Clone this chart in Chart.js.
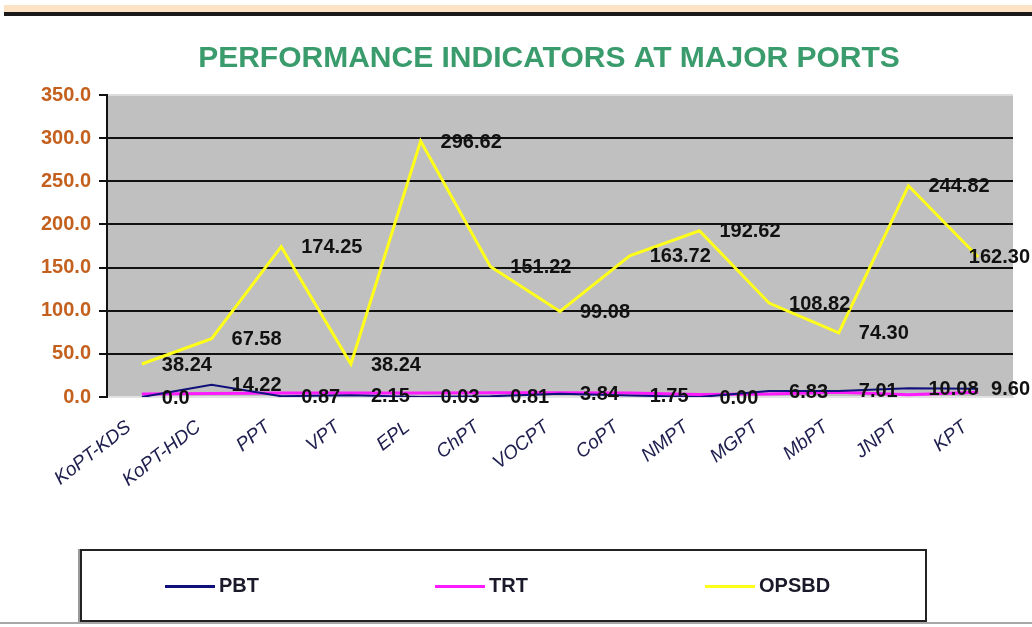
<!DOCTYPE html>
<html>
<head>
<meta charset="utf-8">
<script src="https://cdn.jsdelivr.net/npm/chart.js"></script>
<style>
  html, body { margin: 0; padding: 0; background: #fff; }
  #wrap { position: relative; width: 1032px; height: 627px; overflow: hidden; font-family: "Liberation Sans", Arial, sans-serif; }
  #topBand { position: absolute; left: 4px; top: 5px; width: 1028px; height: 8px; background: #fde3c6; }
  #topRule { position: absolute; left: 4px; top: 12px; width: 1028px; height: 4px; background: #1a1a1a; }
  #bottomRule { position: absolute; left: 0; top: 622px; width: 1032px; height: 2px; background: #a8a8a8; }
  #chart { position: absolute; left: 0; top: 0; }
  #legend { position: absolute; left: 80px; top: 549px; width: 843px; height: 69px; border: 2px solid #222; box-shadow: -2px 0 0 #999; }
  .item { position: absolute; top: 23px; font-size: 20px; font-weight: bold; color: #1a1a2a; line-height: 22px; }
  .item span { display: inline-block; width: 50px; height: 3px; vertical-align: middle; margin-right: 4px; }
</style>
</head>
<body>
<div id="wrap">
  <div id="topBand"></div>
  <div id="topRule"></div>
  <canvas id="chart" width="1032" height="627"></canvas>
  <div id="legend"></div>
  <div id="bottomRule"></div>
</div>
<script>
// ports on the x axis
const ports = ['KoPT-KDS', 'KoPT-HDC', 'PPT', 'VPT', 'EPL', 'ChPT', 'VOCPT', 'CoPT', 'NMPT', 'MGPT', 'MbPT', 'JNPT', 'KPT'];

// series values
const pbtValues = [0.0, 14.22, 0.87, 2.15, 0.03, 0.81, 3.84, 1.75, 0.00, 6.83, 7.01, 10.08, 9.60];
const trtValues = [3.5, 4.0, 4.5, 4.5, 4.5, 4.8, 4.8, 4.5, 3.0, 3.5, 5.5, 2.5, 5.5];
const opsbdValues = [38.24, 67.58, 174.25, 38.24, 296.62, 151.22, 99.08, 163.72, 192.62, 108.82, 74.30, 244.82, 162.30];

// data label texts as printed on the chart
const pbtLabels = ['0.0', '14.22', '0.87', '2.15', '0.03', '0.81', '3.84', '1.75', '0.00', '6.83', '7.01', '10.08', '9.60'];
const opsbdLabels = ['38.24', '67.58', '174.25', '38.24', '296.62', '151.22', '99.08', '163.72', '192.62', '108.82', '74.30', '244.82', '162.30'];

const seriesNames = ['PBT', 'TRT', 'OPSBD'];
const seriesColors = ['#10107a', '#ff1aff', '#ffff1a'];
const chartTitle = 'PERFORMANCE INDICATORS AT MAJOR PORTS';

// gray plot background and title
const plotBackground = {
  id: 'plotBackground',
  beforeDraw(chart) {
    const { ctx, chartArea: a } = chart;
    ctx.save();
    ctx.fillStyle = '#c0c0c0';
    ctx.fillRect(a.left, a.top, a.right - a.left, a.bottom - a.top);
    ctx.strokeStyle = '#dcdcdc';
    ctx.lineWidth = 2;
    ctx.beginPath();
    ctx.moveTo(a.left, a.top);
    ctx.lineTo(a.right, a.top);
    ctx.stroke();

    ctx.font = 'bold 30px "Liberation Sans", Arial, sans-serif';
    ctx.fillStyle = '#3a9c6c';
    ctx.textAlign = 'center';
    ctx.textBaseline = 'middle';
    ctx.fillText(chartTitle, 549, 59);
    ctx.restore();
  }
};

// value labels to the right of each point, kept inside the canvas
const pointLabels = {
  id: 'pointLabels',
  afterDatasetsDraw(chart) {
    const ctx = chart.ctx;
    ctx.save();
    ctx.font = 'bold 20px "Liberation Sans", Arial, sans-serif';
    ctx.fillStyle = '#111';
    ctx.textAlign = 'left';
    ctx.textBaseline = 'middle';
    chart.data.datasets.forEach((ds, i) => {
      if (!ds.pointText) return;
      chart.getDatasetMeta(i).data.forEach((pt, j) => {
        const txt = ds.pointText[j];
        const w = ctx.measureText(txt).width;
        const x = Math.min(pt.x + 20, chart.width - w - 2);
        ctx.fillText(txt, x, pt.y + 1);
      });
    });
    ctx.restore();
  }
};

const ctx = document.getElementById('chart').getContext('2d');
new Chart(ctx, {
  type: 'line',
  data: {
    labels: ports,
    datasets: [
      { label: seriesNames[0], data: pbtValues, borderColor: seriesColors[0], borderWidth: 2, pointRadius: 0, tension: 0, pointText: pbtLabels },
      { label: seriesNames[1], data: trtValues, borderColor: seriesColors[1], borderWidth: 3, pointRadius: 0, tension: 0 },
      { label: seriesNames[2], data: opsbdValues, borderColor: seriesColors[2], borderWidth: 3, pointRadius: 0, tension: 0, pointText: opsbdLabels }
    ]
  },
  options: {
    responsive: false,
    animation: false,
    layout: { padding: { left: 0, right: 19, top: 95, bottom: 0 } },
    plugins: {
      legend: { display: false },
      tooltip: { enabled: false },
      title: { display: false }
    },
    scales: {
      x: {
        offset: true,
        grid: { display: false, drawTicks: false },
        border: { color: '#e2e2e2', width: 2 },
        ticks: {
          color: '#202050',
          font: { family: '"Liberation Sans", Arial, sans-serif', size: 19, style: 'italic' },
          minRotation: 38,
          maxRotation: 38,
          padding: 19,
          labelOffset: -13,
          autoSkip: false
        },
        afterFit(scale) { scale.height = 230; }
      },
      y: {
        min: 0,
        max: 350,
        grid: {
          color: c => (c.tick.value > 0 && c.tick.value < 350 ? '#111' : 'rgba(0,0,0,0)'),
          lineWidth: 2,
          tickColor: '#111',
          tickLength: 8
        },
        border: { color: '#111', width: 2 },
        ticks: {
          stepSize: 50,
          color: '#c4601e',
          padding: 8,
          font: { family: '"Liberation Sans", Arial, sans-serif', size: 20, weight: 'bold' },
          callback: v => v.toFixed(1)
        },
        afterFit(scale) { scale.width = 107; }
      }
    }
  },
  plugins: [plotBackground, pointLabels]
});

// legend box below the chart
const legend = document.getElementById('legend');
const legendX = [83, 353, 623];
seriesNames.forEach((name, i) => {
  const el = document.createElement('div');
  el.className = 'item';
  el.style.left = legendX[i] + 'px';
  el.innerHTML = '<span style="background:' + seriesColors[i] + '"></span>' + name;
  legend.appendChild(el);
});
</script>
</body>
</html>
